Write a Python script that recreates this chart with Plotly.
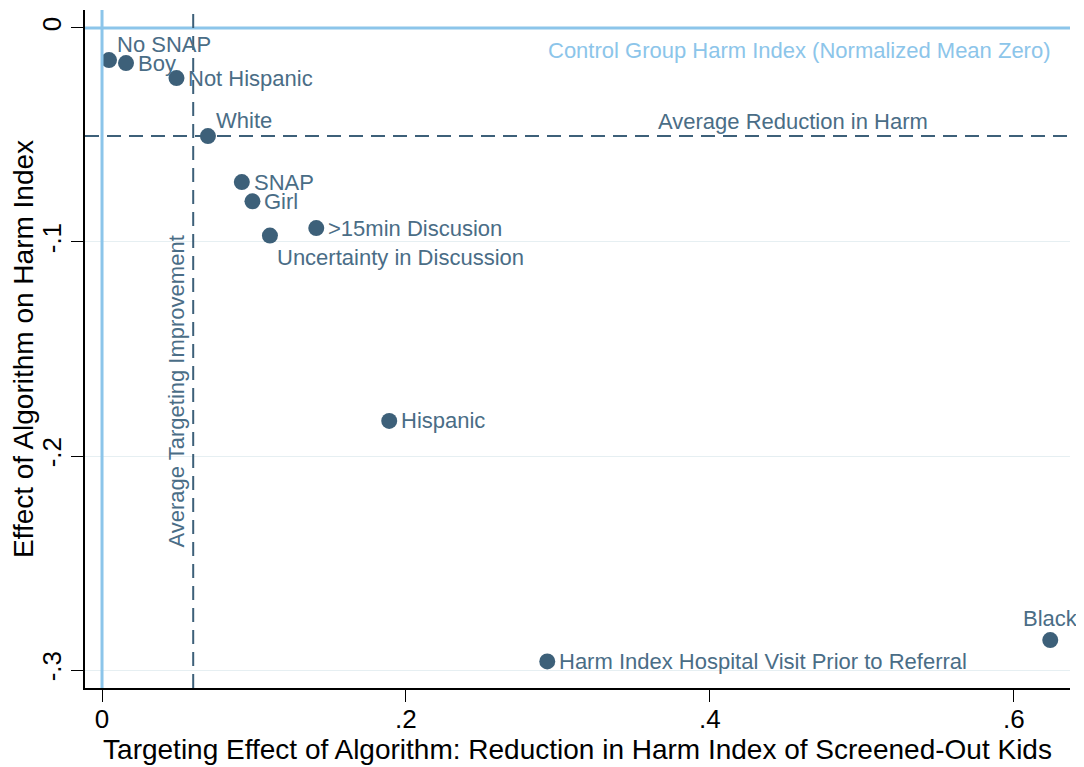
import plotly.graph_objects as go

# Subgroup estimates
groups = ["No SNAP", "Boy", "Not Hispanic", "White", "SNAP", "Girl",
          ">15min Discusion", "Uncertainty in Discussion", "Hispanic",
          "Harm Index Hospital Visit Prior to Referral", "Black"]
targeting = [0.0046, 0.0158, 0.049, 0.0697, 0.092, 0.099,
             0.141, 0.1105, 0.189, 0.293, 0.624]
harm_effect = [-0.0150, -0.0164, -0.0234, -0.0505, -0.0720, -0.0810,
               -0.0935, -0.0970, -0.1836, -0.2960, -0.2860]
label_pos = ["top right", "right", "right", "top right", "right", "right",
             "right", "bottom right", "right", "right", "top"]

avg_targeting = 0.060
avg_reduction = -0.0505

x_ticks = [0, 0.2, 0.4, 0.6]
x_ticklabels = ["0", ".2", ".4", ".6"]
y_ticks = [0, -0.1, -0.2, -0.3]
y_ticklabels = ["0", "-.1", "-.2", "-.3"]

NAVY = "#3d6079"
TXT = "#4a6d86"
LIGHT = "#8cc5ea"
FONT = "Liberation Sans, Arial, sans-serif"

# marker-label placement styles (like Stata's mlabposition)
POS_STYLE = {
    "right": dict(xanchor="left", yanchor="middle", xshift=10, yshift=0),
    "top right": dict(xanchor="left", yanchor="bottom", xshift=6, yshift=1),
    "bottom right": dict(xanchor="left", yanchor="top", xshift=5, yshift=-7),
    "top": dict(xanchor="center", yanchor="bottom", xshift=0, yshift=7),
}

fig = go.Figure()

fig.add_trace(go.Scatter(
    x=targeting, y=harm_effect, mode="markers",
    marker=dict(size=16, color=NAVY),
    cliponaxis=False, showlegend=False,
))

for name, xv, yv, pos in zip(groups, targeting, harm_effect, label_pos):
    fig.add_annotation(x=xv, y=yv, text=name, showarrow=False,
                       font=dict(family=FONT, size=22, color=TXT), **POS_STYLE[pos])

# reference lines
fig.add_hline(y=0, line=dict(color=LIGHT, width=3))
fig.add_vline(x=0, line=dict(color=LIGHT, width=3))
fig.add_hline(y=avg_reduction, line=dict(color=NAVY, width=2, dash="14px,8px"))
fig.add_vline(x=avg_targeting, line=dict(color=NAVY, width=2, dash="14px,8px"))

fig.add_annotation(x=0.626, y=-0.0105, text="Control Group Harm Index (Normalized Mean Zero)",
                   showarrow=False, xanchor="right", yanchor="middle",
                   font=dict(family=FONT, size=22, color=LIGHT))
fig.add_annotation(x=0.455, y=avg_reduction, text="Average Reduction in Harm",
                   showarrow=False, xanchor="center", yanchor="bottom", yshift=0,
                   font=dict(family=FONT, size=22, color=TXT))
fig.add_annotation(x=avg_targeting, y=-0.170, text="Average Targeting Improvement",
                   showarrow=False, xanchor="right", yanchor="middle", textangle=-90,
                   xshift=-2, font=dict(family=FONT, size=22, color=TXT))

fig.update_xaxes(
    range=[-0.0112, 0.637], tickvals=x_ticks, ticktext=x_ticklabels,
    showgrid=False, zeroline=False, showline=True, linecolor="black", linewidth=1.5,
    ticks="outside", ticklen=12, tickcolor="black", automargin=False,
    ticklabelstandoff=-5,
    tickfont=dict(family=FONT, size=26, color="black"),
    title=dict(text="Targeting Effect of Algorithm: Reduction in Harm Index of Screened-Out Kids",
               font=dict(family=FONT, size=28, color="black"), standoff=0),
)
fig.update_yaxes(
    range=[-0.3084, 0.0084], tickvals=y_ticks, ticktext=y_ticklabels, tickangle=-90,
    showgrid=True, gridcolor="#e6eff2", gridwidth=1, zeroline=False,
    showline=True, linecolor="black", linewidth=1.5,
    ticks="outside", ticklen=12, tickcolor="black", automargin=False,
    tickfont=dict(family=FONT, size=26, color="black"),
    title=dict(text="Effect of Algorithm on Harm Index",
               font=dict(family=FONT, size=28, color="black"), standoff=6),
)

# the page body adds an 8px offset, so the figure is sized/margined to compensate
fig.update_layout(
    width=1076, height=759,
    paper_bgcolor="white", plot_bgcolor="white",
    margin=dict(l=77, r=14, t=2, b=79),
    font=dict(family=FONT),
)

fig.write_html("out.html")
